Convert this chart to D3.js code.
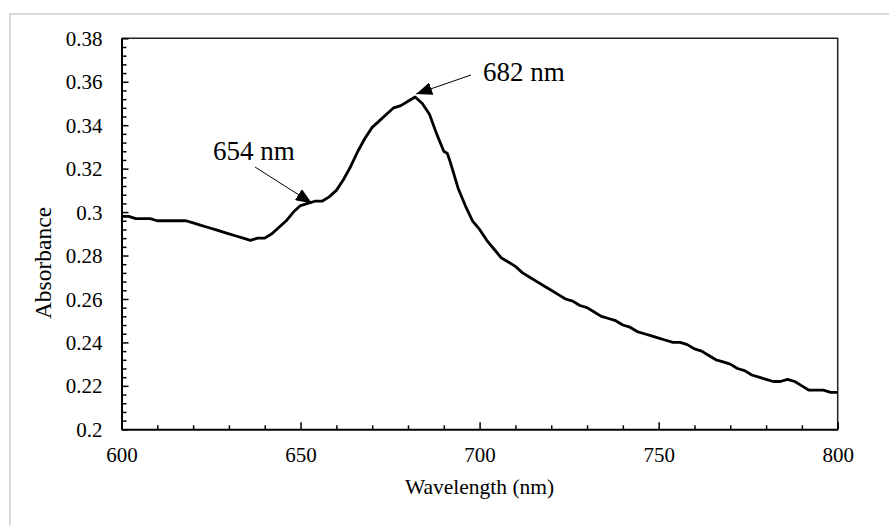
<!DOCTYPE html>
<html>
<head>
<meta charset="utf-8">
<script src="https://cdn.jsdelivr.net/npm/d3@7/dist/d3.min.js"></script>
<style>
  body { margin: 0; background: #fff; }
  text { font-family: "Liberation Serif", "Times New Roman", serif; fill: #000; }
</style>
</head>
<body>
<div id="chart"></div>
<script>
const wavelength = [600, 602, 604, 606, 608, 610, 612, 614, 616, 618,
    620, 622, 624, 626, 628, 630, 632, 634, 636, 638,
    640, 642, 644, 646, 648, 650, 652, 654, 656, 658,
    660, 662, 664, 666, 668, 670, 672, 674, 676, 678,
    680, 682, 684, 686, 688, 690, 691, 692, 694, 696, 698,
    700, 702, 704, 706, 708, 710, 712, 714, 716, 718,
    720, 722, 724, 726, 728, 730, 732, 734, 736, 738,
    740, 742, 744, 746, 748, 750, 752, 754, 756, 758,
    760, 762, 764, 766, 768, 770, 772, 774, 776, 778,
    780, 782, 784, 786, 788, 790, 792, 794, 796, 798, 800];

const absorbance = [0.298, 0.298, 0.297, 0.297, 0.297, 0.296, 0.296, 0.296, 0.296, 0.296,
    0.295, 0.294, 0.293, 0.292, 0.291, 0.290, 0.289, 0.288, 0.287, 0.288,
    0.288, 0.290, 0.293, 0.296, 0.300, 0.303, 0.304, 0.305, 0.305, 0.307,
    0.310, 0.315, 0.321, 0.328, 0.334, 0.339, 0.342, 0.345, 0.348, 0.349,
    0.351, 0.353, 0.350, 0.345, 0.336, 0.328, 0.327, 0.322, 0.311, 0.303, 0.296,
    0.292, 0.287, 0.283, 0.279, 0.277, 0.275, 0.272, 0.270, 0.268, 0.266,
    0.264, 0.262, 0.260, 0.259, 0.257, 0.256, 0.254, 0.252, 0.251, 0.250,
    0.248, 0.247, 0.245, 0.244, 0.243, 0.242, 0.241, 0.240, 0.240, 0.239,
    0.237, 0.236, 0.234, 0.232, 0.231, 0.230, 0.228, 0.227, 0.225, 0.224,
    0.223, 0.222, 0.222, 0.223, 0.222, 0.220, 0.218, 0.218, 0.218, 0.217, 0.217];

const xTicks = [600, 650, 700, 750, 800];
const xMinor = [610, 620, 630, 640, 660, 670, 680, 690, 710, 720, 730, 740, 760, 770, 780, 790];
const yTicks = [0.2, 0.22, 0.24, 0.26, 0.28, 0.3, 0.32, 0.34, 0.36, 0.38];
const yMinor = d3.range(0.204, 0.38, 0.004).filter(v => Math.abs(v * 50 - Math.round(v * 50)) > 1e-6);

const peaks = [
    {label: "654 nm", at: 654, value: 0.305},
    {label: "682 nm", at: 682, value: 0.353}
];

const width = 889, height = 525;

const svg = d3.select("#chart").append("svg")
    .attr("width", width)
    .attr("height", height);

// light frame round the picture
svg.append("path")
    .attr("d", "M10,525V14H889")
    .attr("fill", "none")
    .attr("stroke", "#d9d9d9")
    .attr("stroke-width", 2);

const x = d3.scaleLinear().domain([600, 800]).range([121.5, 837.7]);
const y = d3.scaleLinear().domain([0.2, 0.38]).range([429.3, 38.3]);

// top and right edges of the plot area
svg.append("path")
    .attr("d", `M${x(600)},${y(0.38)}H${x(800)}V${y(0.2)}`)
    .attr("fill", "none")
    .attr("stroke", "#222")
    .attr("stroke-width", 1.5);

// minor ticks
svg.append("g")
    .attr("transform", `translate(0,${y(0.2)})`)
    .call(d3.axisBottom(x).tickValues(xMinor).tickSize(-4).tickSizeOuter(0).tickFormat(""))
    .call(g => g.select(".domain").remove())
    .selectAll("line").attr("stroke", "#000").attr("stroke-width", 1.5);

svg.append("g")
    .attr("transform", `translate(${x(600)},0)`)
    .call(d3.axisLeft(y).tickValues(yMinor).tickSize(-5).tickSizeOuter(0).tickFormat(""))
    .call(g => g.select(".domain").remove())
    .selectAll("line").attr("stroke", "#000").attr("stroke-width", 1.5);

// main axes
const xAxis = svg.append("g")
    .attr("transform", `translate(0,${y(0.2)})`)
    .call(d3.axisBottom(x).tickValues(xTicks).tickSize(-7).tickSizeOuter(0).tickPadding(18));

const yAxis = svg.append("g")
    .attr("transform", `translate(${x(600)},0)`)
    .call(d3.axisLeft(y).tickValues(yTicks).tickSize(-7).tickSizeOuter(0).tickPadding(19)
        .tickFormat(d => String(+d.toFixed(2))));

[xAxis, yAxis].forEach(g => {
    g.select(".domain").attr("stroke", "#000").attr("stroke-width", 2);
    g.selectAll("line").attr("stroke", "#000").attr("stroke-width", 1.5);
    g.selectAll("text")
        .attr("font-family", '"Liberation Serif", "Times New Roman", serif')
        .attr("font-size", 21)
        .attr("fill", "#000");
});
yAxis.selectAll("text").attr("dy", "0.34em");

// spectrum
const line = d3.line()
    .x((d, i) => x(wavelength[i]))
    .y(d => y(d));

svg.append("path")
    .datum(absorbance)
    .attr("fill", "none")
    .attr("stroke", "#000")
    .attr("stroke-width", 2.8)
    .attr("stroke-linejoin", "round")
    .attr("d", line);

// arrow annotations
svg.append("defs").append("marker")
    .attr("id", "head")
    .attr("viewBox", "0 0 16 13")
    .attr("refX", 16).attr("refY", 6.5)
    .attr("markerUnits", "userSpaceOnUse")
    .attr("markerWidth", 16).attr("markerHeight", 13)
    .attr("orient", "auto")
    .append("path")
    .attr("d", "M0,0L16,6.5L0,13Z")
    .attr("fill", "#000");

const notes = [
    {from: [255, 167], to: [x(peaks[0].at) - 3, y(peaks[0].value) + 2], text: [213, 160]},
    {from: [471, 75], to: [x(peaks[1].at) + 1, y(peaks[1].value) - 3], text: [483, 81]}
];

notes.forEach((n, i) => {
    svg.append("line")
        .attr("x1", n.from[0]).attr("y1", n.from[1])
        .attr("x2", n.to[0]).attr("y2", n.to[1])
        .attr("stroke", "#000")
        .attr("stroke-width", 1)
        .attr("marker-end", "url(#head)");
    svg.append("text")
        .attr("x", n.text[0]).attr("y", n.text[1])
        .attr("font-size", 27)
        .text(peaks[i].label);
});

// axis titles
svg.append("text")
    .attr("x", 479.6).attr("y", 494)
    .attr("text-anchor", "middle")
    .attr("font-size", 21.5)
    .text("Wavelength (nm)");

svg.append("text")
    .attr("transform", "translate(51,263) rotate(-90)")
    .attr("text-anchor", "middle")
    .attr("font-size", 23.5)
    .text("Absorbance");
</script>
</body>
</html>
